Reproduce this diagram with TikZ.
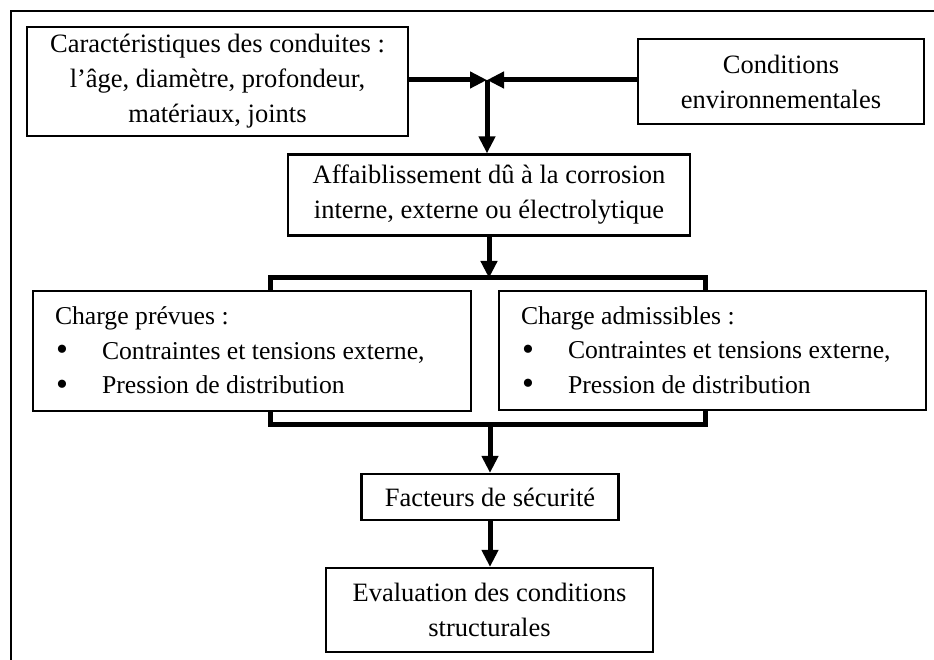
\documentclass[tikz,border=0pt]{standalone}
\usepackage{fontspec}
\setmainfont{Liberation Serif}
\usetikzlibrary{arrows.meta}
\tikzset{
  boxnode/.style={draw, line width=2.2pt, rectangle, align=center, inner sep=0pt,
    font=\fontsize{26.5}{35}\selectfont},
  listbox/.style={boxnode, align=left, font=\fontsize{25.7}{34.5}\selectfont},
  conn/.style={line width=5pt},
  arr/.style={line width=5pt, -{Triangle[length=17pt,width=16pt]}},
}
\newcommand{\bul}{\makebox[47pt][l]{\hspace{1pt}\raisebox{-1.5pt}{\fontsize{34}{35}\selectfont •}}}
\begin{document}
\begin{tikzpicture}[x=1pt,y=-1pt]
\useasboundingbox (0,0) rectangle (934,660);
% frame
\draw[line width=1.6pt] (11,660) -- (11,11) -- (934,11);
% boxes
\node[boxnode, minimum width=381pt, minimum height=109pt] (b1) at (217.5,81.5)
  {Caractéristiques des conduites :\\ l’âge, diamètre, profondeur,\\ matériaux, joints};
\node[boxnode, minimum width=286pt, minimum height=85pt] (b2) at (781,81.5)
  {Conditions\\ environnementales};
\node[boxnode, minimum width=402pt, minimum height=81pt] (b3) at (489,195)
  {Affaiblissement dû à la corrosion\\ interne, externe ou électrolytique};
\node[listbox, minimum width=438pt, minimum height=120pt] (b4) at (252,351)
  {\makebox[394pt][l]{Charge prévues :}\\ \bul Contraintes et tensions externe,\\ \bul Pression de distribution};
\node[listbox, minimum width=427pt, minimum height=119pt] (b5) at (712.5,350.5)
  {\makebox[383pt][l]{Charge admissibles :}\\ \bul Contraintes et tensions externe,\\ \bul Pression de distribution};
\node[boxnode, minimum width=257pt, minimum height=46pt] (b6) at (490,497)
  {Facteurs de sécurité};
\node[boxnode, minimum width=327pt, minimum height=84pt] (b7) at (489.5,610)
  {Evaluation des conditions\\ structurales};
% connectors
\coordinate (j) at (487,80);
\draw[arr] (b1.east |- j) -- (j);
\draw[arr] (b2.west |- j) -- (j);
\draw[arr] (j) -- (j |- b3.north);
\coordinate (tl) at (270,278);
\coordinate (tr) at (705,278);
\draw[conn] (tl |- b4.north) -- (tl) -- (tr) -- (tr |- b5.north);
\draw[arr] (b3.south) -- (b3.south |- tl);
\coordinate (bl) at (270,424);
\coordinate (br) at (705,424);
\draw[conn] (bl |- b4.south) -- (bl) -- (br) -- (br |- b5.south);
\draw[arr] (b6.north |- bl) -- (b6.north);
\draw[arr] (b6.south) -- (b6.south |- b7.north);
\end{tikzpicture}
\end{document}
